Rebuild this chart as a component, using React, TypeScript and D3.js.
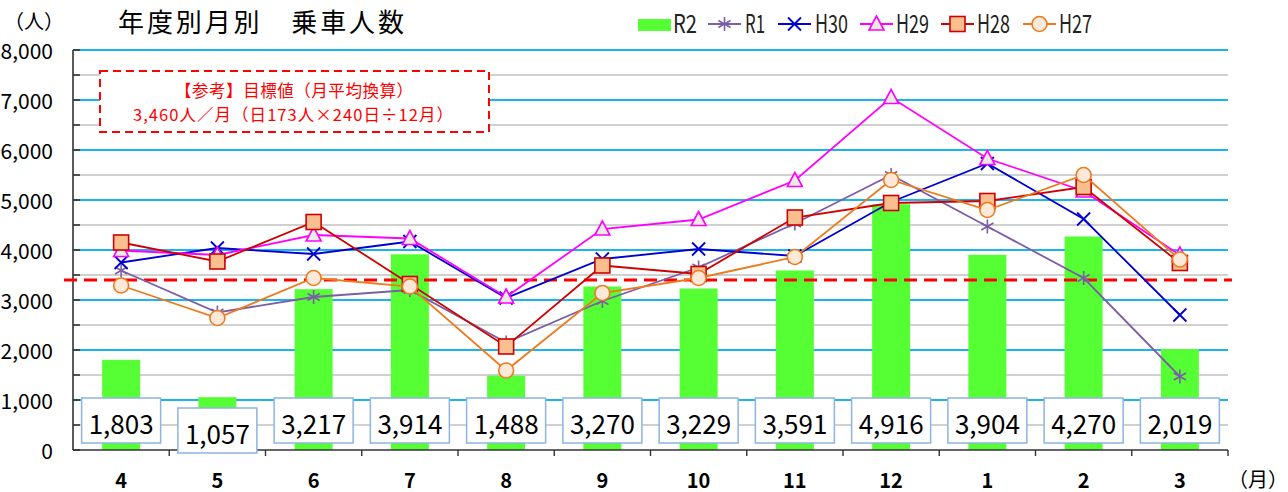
import React from 'react';
import * as d3 from 'd3';

const months = ['4', '5', '6', '7', '8', '9', '10', '11', '12', '1', '2', '3'];
const r2 = [1803, 1057, 3217, 3914, 1488, 3270, 3229, 3591, 4916, 3904, 4270, 2019];
const r1 = [3590, 2750, 3060, 3200, 2150, 2980, 3650, 4530, 5500, 4470, 3440, 1470];
const h30 = [3750, 4040, 3920, 4170, 3040, 3820, 4020, 3880, 4960, 5730, 4620, 2700];
const h29 = [3990, 3900, 4300, 4230, 3060, 4420, 4610, 5390, 7050, 5830, 5180, 3900];
const h28 = [4150, 3770, 4560, 3320, 2070, 3690, 3520, 4650, 4940, 4980, 5260, 3740];
const h27 = [3290, 2640, 3440, 3270, 1590, 3140, 3440, 3860, 5400, 4800, 5500, 3810];
const yMajor = [0, 1000, 2000, 3000, 4000, 5000, 6000, 7000, 8000];
const yMinor = [500, 1500, 2500, 3500, 4500, 5500, 6500, 7500];
const targetValue = 3400;
const title = '年度別月別　乗車人数';
const noteLine1 = '【参考】目標値（月平均換算）';
const noteLine2 = '3,460人／月（日173人×240日÷12月）';

type Marker = 'asterisk' | 'x' | 'triangle' | 'square' | 'circle';
const lineSeries: { name: string; values: number[]; color: string; fill: string; marker: Marker }[] = [
  { name: 'R1', values: r1, color: '#7b5ea7', fill: 'none', marker: 'asterisk' },
  { name: 'H30', values: h30, color: '#0000d0', fill: 'none', marker: 'x' },
  { name: 'H29', values: h29, color: '#ff00ff', fill: '#e9ecdf', marker: 'triangle' },
  { name: 'H28', values: h28, color: '#d00000', fill: '#f9bf8f', marker: 'square' },
  { name: 'H27', values: h27, color: '#ee7a1c', fill: '#fde9d9', marker: 'circle' },
];

const FONT = '"Noto Sans CJK JP", "Noto Sans", sans-serif';

const left = 73, right = 1228, top = 50, bottom = 450;
const x = d3.scaleBand<string>().domain(months).range([left, right]);
const y = d3.scaleLinear().domain([0, 8000]).range([bottom, top]);
const barW = 38;
const labelShift = (i: number) => (i === 1 ? 10 : 0);

function MarkerShape({ type, cx, cy, color, fill }: { type: Marker; cx: number; cy: number; color: string; fill: string }) {
  const s = 7.5;
  switch (type) {
    case 'asterisk': {
      const a = 7;
      return (
        <g stroke={color} strokeWidth={1.6}>
          <line x1={cx} y1={cy - a} x2={cx} y2={cy + a} />
          <line x1={cx - a * 0.87} y1={cy - a * 0.5} x2={cx + a * 0.87} y2={cy + a * 0.5} />
          <line x1={cx - a * 0.87} y1={cy + a * 0.5} x2={cx + a * 0.87} y2={cy - a * 0.5} />
        </g>
      );
    }
    case 'x': {
      const a = 6.5;
      return (
        <g stroke={color} strokeWidth={1.8}>
          <line x1={cx - a} y1={cy - a} x2={cx + a} y2={cy + a} />
          <line x1={cx - a} y1={cy + a} x2={cx + a} y2={cy - a} />
        </g>
      );
    }
    case 'triangle':
      return (
        <polygon
          points={`${cx},${cy - 8} ${cx - 7.5},${cy + 6} ${cx + 7.5},${cy + 6}`}
          fill={fill}
          stroke={color}
          strokeWidth={1.6}
        />
      );
    case 'square':
      return <rect x={cx - s} y={cy - s} width={2 * s} height={2 * s} fill={fill} stroke={color} strokeWidth={1.6} />;
    case 'circle':
      return <circle cx={cx} cy={cy} r={7.5} fill={fill} stroke={color} strokeWidth={1.6} />;
  }
}

export default function App() {
  const cx = (m: string) => (x(m) as number) + x.bandwidth() / 2;
  const line = d3
    .line<number>()
    .x((_, i) => cx(months[i]))
    .y((d) => y(d));

  const legendItems = [
    { name: 'R1', x0: 708, tx: 745, tw: 20 },
    { name: 'H30', x0: 778, tx: 815, tw: 33 },
    { name: 'H29', x0: 860, tx: 896, tw: 33 },
    { name: 'H28', x0: 941, tx: 977, tw: 33 },
    { name: 'H27', x0: 1023, tx: 1059, tw: 33 },
  ];

  return (
    <svg
      width={1288}
      height={492}
      style={{ position: 'absolute', left: 0, top: 0, background: '#fff' }}
      fontFamily={FONT}
    >
      <rect x={0} y={0} width={1288} height={492} fill="#fff" />
      {/* gridlines */}
      {yMinor.map((v) => (
        <line key={'mi' + v} x1={left} x2={right} y1={y(v)} y2={y(v)} stroke="#c0c0c0" strokeWidth={1.6} />
      ))}
      {yMajor.filter((v) => v > 0).map((v) => (
        <line key={'ma' + v} x1={left} x2={right} y1={y(v)} y2={y(v)} stroke="#1cb4ec" strokeWidth={1.8} />
      ))}
      {/* y ticks */}
      {[...yMajor, ...yMinor].map((v) => (
        <line key={'t' + v} x1={left} x2={left + 7} y1={y(v)} y2={y(v)} stroke="#333" strokeWidth={1.6} />
      ))}
      {/* bars */}
      {r2.map((v, i) => (
        <rect key={'b' + i} x={cx(months[i]) - barW / 2} y={y(v)} width={barW} height={y(0) - y(v)} fill="#55ff33" />
      ))}
      {/* axes */}
      <line x1={left} x2={left} y1={top} y2={bottom} stroke="#333" strokeWidth={1.6} />
      <line x1={left} x2={right} y1={bottom} y2={bottom} stroke="#333" strokeWidth={1.6} />
      {months.map((m) => (
        <line key={'xt' + m} x1={(x(m) as number) + x.bandwidth()} x2={(x(m) as number) + x.bandwidth()} y1={bottom} y2={bottom + 6} stroke="#333" strokeWidth={1.4} />
      ))}
      {/* target line */}
      <line x1={64} x2={1232} y1={y(targetValue)} y2={y(targetValue)} stroke="#ff0000" strokeWidth={3} strokeDasharray="13,7" />
      {/* lines */}
      {lineSeries.map((s) => (
        <g key={s.name}>
          <path d={line(s.values) as string} fill="none" stroke={s.color} strokeWidth={1.8} />
          {s.values.map((v, i) => (
            <MarkerShape key={i} type={s.marker} cx={cx(months[i])} cy={y(v)} color={s.color} fill={s.fill} />
          ))}
        </g>
      ))}
      {/* data labels */}
      {r2.map((v, i) => {
        const bx = cx(months[i]);
        const by = 398 + labelShift(i);
        return (
          <g key={'l' + i}>
            <rect x={bx - 39.5} y={by} width={79} height={45} fill="#fff" stroke="#8db4e2" strokeWidth={1.5} />
            <text x={bx} y={by + 24} textAnchor="middle" dominantBaseline="central" fontSize={26} fill="#000">
              {d3.format(',')(v)}
            </text>
          </g>
        );
      })}
      {/* y labels */}
      {yMajor.map((v) => (
        <text key={'yl' + v} x={53} y={y(v)} textAnchor="end" dominantBaseline="central" fontSize={21} fill="#000">
          {d3.format(',')(v)}
        </text>
      ))}
      {/* x labels */}
      {months.map((m) => (
        <text key={'xl' + m} x={cx(m)} y={479} textAnchor="middle" dominantBaseline="central" fontSize={20} fontWeight="bold" fill="#000">
          {m}
        </text>
      ))}
      <text x={1228} y={478} dominantBaseline="central" fontSize={20} fill="#000">（月）</text>
      <text x={4} y={20} dominantBaseline="central" fontSize={20} fill="#000">（人）</text>
      {/* title */}
      <text x={118} y={20} dominantBaseline="central" fontSize={26} fill="#000" textLength={286} lengthAdjust="spacing">
        {title}
      </text>
      {/* note box */}
      <rect x={100} y={71} width={389} height={61} fill="#fff" stroke="#ff0000" strokeWidth={2} strokeDasharray="8,5" />
      <text x={294} y={90} textAnchor="middle" dominantBaseline="central" fontSize={16.5} fill="#ff0000" textLength={238} lengthAdjust="spacing">
        {noteLine1}
      </text>
      <text x={293} y={114} textAnchor="middle" dominantBaseline="central" fontSize={16.5} fill="#ff0000" textLength={320} lengthAdjust="spacing">
        {noteLine2}
      </text>
      {/* legend */}
      <rect x={638} y={19} width={33} height={12} fill="#55ff33" />
      <text x={673} y={33} fontSize={25} fill="#222" textLength={24} lengthAdjust="spacingAndGlyphs">R2</text>
      {legendItems.map((it) => {
        const s = lineSeries.find((d) => d.name === it.name)!;
        return (
          <g key={'lg' + it.name}>
            <line x1={it.x0} x2={it.x0 + 33} y1={24} y2={24} stroke={s.color} strokeWidth={1.8} />
            <MarkerShape type={s.marker} cx={it.x0 + 16.5} cy={24} color={s.color} fill={s.fill} />
            <text x={it.tx} y={33} fontSize={25} fill="#222" textLength={it.tw} lengthAdjust="spacingAndGlyphs">
              {it.name}
            </text>
          </g>
        );
      })}
    </svg>
  );
}
